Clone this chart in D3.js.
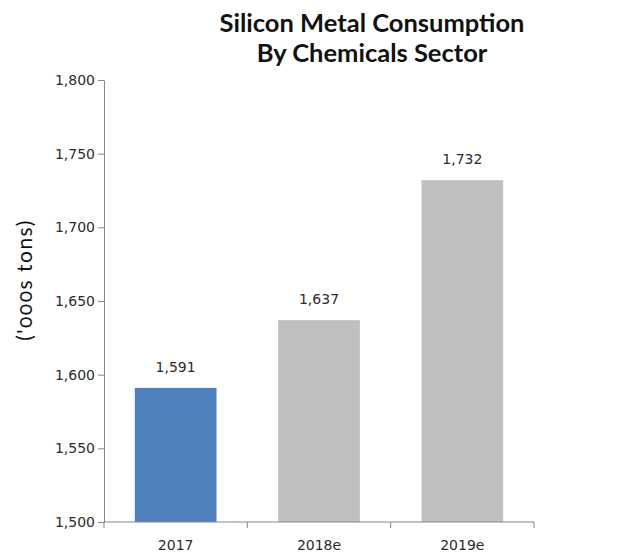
<!DOCTYPE html>
<html>
<head>
<meta charset="utf-8">
<script src="https://cdn.jsdelivr.net/npm/d3@7"></script>
<style>
  html, body { margin: 0; padding: 0; background: #fff; }
  svg { display: block; }
</style>
</head>
<body>
<svg id="chart" width="623" height="555"></svg>
<script>
// Silicon metal consumption by the chemicals sector, thousand tons
const categories = ["2017", "2018e", "2019e"];
const values = [1591, 1637, 1732];
const barColors = ["#4f81bd", "#bfbfbf", "#bfbfbf"];
const yTicks = [1500, 1550, 1600, 1650, 1700, 1750, 1800];
const titleLines = ["Silicon Metal Consumption", "By Chemicals Sector"];
const yTitle = "('000s tons)";

const svg = d3.select("#chart");
const margin = { left: 104, right: 89, top: 80, bottom: 33 };
const W = 623, H = 555;

const x = d3.scaleBand()
  .domain(categories)
  .range([margin.left, W - margin.right])
  .paddingInner(0.43)
  .paddingOuter(0.215);

const y = d3.scaleLinear()
  .domain([1500, 1800])
  .range([H - margin.bottom, margin.top]);

const fmt = d3.format(",");
const axisColor = "#868686";
const labelFont = "DejaVu Sans, Verdana, sans-serif";

// bars
svg.append("g").selectAll("rect")
  .data(values)
  .join("rect")
  .attr("x", (d, i) => x(categories[i]))
  .attr("width", x.bandwidth())
  .attr("y", d => y(d))
  .attr("height", d => y(1500) - y(d))
  .attr("fill", (d, i) => barColors[i]);

// value labels
svg.append("g").selectAll("text")
  .data(values)
  .join("text")
  .attr("x", (d, i) => x(categories[i]) + x.bandwidth() / 2)
  .attr("y", d => y(d) - 16)
  .attr("text-anchor", "middle")
  .attr("font-family", labelFont)
  .attr("font-size", 14)
  .attr("fill", "#2b2b2b")
  .text(d => fmt(d));

// y axis
const yAxis = svg.append("g")
  .attr("transform", `translate(${margin.left},0)`)
  .call(d3.axisLeft(y).tickValues(yTicks).tickFormat(fmt).tickSize(6).tickSizeOuter(0));
yAxis.select(".domain").attr("stroke", axisColor);
yAxis.selectAll(".tick line").attr("stroke", axisColor);
yAxis.selectAll(".tick text")
  .attr("font-family", labelFont)
  .attr("font-size", 14)
  .attr("fill", "#2b2b2b")
  .attr("x", -9);

// x axis with ticks at the band boundaries
const xAxis = svg.append("g")
  .attr("transform", `translate(0,${y(1500)})`);
xAxis.append("line")
  .attr("x1", margin.left).attr("x2", W - margin.right)
  .attr("stroke", axisColor);
const step = x.step();
const bounds = d3.range(categories.length + 1).map(i => margin.left + i * step);
xAxis.selectAll(".b")
  .data(bounds)
  .join("line")
  .attr("x1", d => d).attr("x2", d => d)
  .attr("y1", 0).attr("y2", 6)
  .attr("stroke", axisColor);
xAxis.selectAll("text")
  .data(categories)
  .join("text")
  .attr("x", d => x(d) + x.bandwidth() / 2)
  .attr("y", 28)
  .attr("text-anchor", "middle")
  .attr("font-family", labelFont)
  .attr("font-size", 14)
  .attr("fill", "#2b2b2b")
  .text(d => d);

// title
svg.append("text")
  .attr("text-anchor", "middle")
  .attr("font-family", "Lato, sans-serif")
  .attr("font-weight", "bold")
  .attr("font-size", 25.5)
  .attr("fill", "#111")
  .selectAll("tspan")
  .data(titleLines)
  .join("tspan")
  .attr("x", 372)
  .attr("y", (d, i) => 32 + i * 30)
  .text(d => d);

// y axis title
svg.append("text")
  .attr("transform", "translate(32,280) rotate(-90)")
  .attr("text-anchor", "middle")
  .attr("font-family", "Lato, sans-serif")
  .attr("font-size", 21)
  .attr("letter-spacing", 1.5)
  .attr("fill", "#111")
  .style("font-variant-numeric", "oldstyle-nums")
  .text(yTitle);
</script>
</body>
</html>
